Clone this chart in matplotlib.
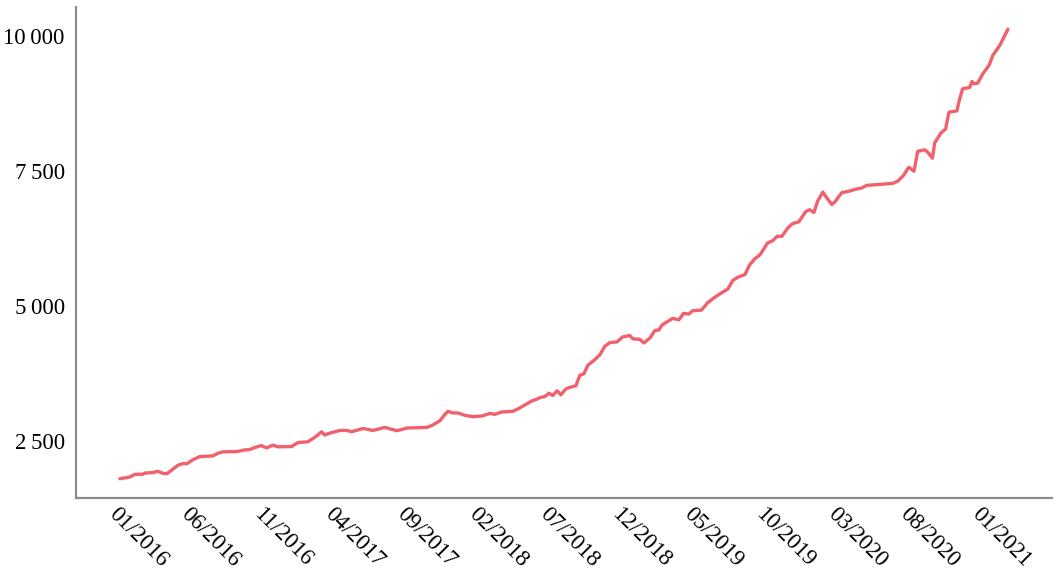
import matplotlib
matplotlib.use("Agg")
import matplotlib.pyplot as plt
import matplotlib.dates as mdates
from matplotlib.ticker import FuncFormatter, FixedLocator
import pandas as pd

plt.rcParams['font.family'] = ['Liberation Serif', 'DejaVu Serif']

# valeurs
dates = [
    "2016-01-01", "2016-01-22", "2016-02-02", "2016-02-19", "2016-02-23", "2016-03-11", "2016-03-21",
    "2016-04-01", "2016-04-10", "2016-04-20", "2016-05-03", "2016-05-13", "2016-05-22", "2016-06-04",
    "2016-06-18", "2016-07-16", "2016-07-27", "2016-08-06", "2016-09-05", "2016-09-18", "2016-10-02",
    "2016-10-13", "2016-10-26", "2016-11-07", "2016-11-20", "2016-12-01", "2016-12-30", "2017-01-12",
    "2017-02-02", "2017-02-17", "2017-02-23", "2017-03-03", "2017-03-10", "2017-03-21", "2017-04-11",
    "2017-04-26", "2017-05-06", "2017-05-30", "2017-06-20", "2017-07-15", "2017-08-10", "2017-08-31",
    "2017-10-12", "2017-10-25", "2017-11-09", "2017-11-19", "2017-11-26", "2017-12-06", "2017-12-17",
    "2018-01-01", "2018-01-18", "2018-02-06", "2018-02-23", "2018-03-05", "2018-03-20", "2018-04-12",
    "2018-04-23", "2018-05-12", "2018-05-23", "2018-06-02", "2018-06-09", "2018-06-19", "2018-06-28",
    "2018-07-06", "2018-07-15", "2018-07-23", "2018-08-03", "2018-08-15", "2018-08-24", "2018-09-01",
    "2018-09-10", "2018-09-18", "2018-10-03", "2018-10-14", "2018-10-24", "2018-11-04", "2018-11-19",
    "2018-12-01", "2018-12-16", "2018-12-23", "2019-01-06", "2019-01-15", "2019-01-28", "2019-02-07",
    "2019-02-16", "2019-02-22", "2019-03-05", "2019-03-17", "2019-03-30", "2019-04-09", "2019-04-20",
    "2019-04-28", "2019-05-17", "2019-05-30", "2019-06-14", "2019-06-29", "2019-07-12", "2019-07-22",
    "2019-08-02", "2019-08-17", "2019-08-27", "2019-09-07", "2019-09-18", "2019-10-04", "2019-10-15",
    "2019-10-24", "2019-11-03", "2019-11-16", "2019-11-26", "2019-12-09", "2019-12-24", "2020-01-01",
    "2020-01-10", "2020-01-18", "2020-01-29", "2020-02-06", "2020-02-17", "2020-02-23", "2020-03-09",
    "2020-03-26", "2020-04-06", "2020-04-20", "2020-05-01", "2020-05-22", "2020-06-25", "2020-07-06",
    "2020-07-18", "2020-07-29", "2020-08-09", "2020-08-17", "2020-09-01", "2020-09-07", "2020-09-17",
    "2020-09-22", "2020-10-05", "2020-10-15", "2020-10-22", "2020-11-08", "2020-11-12", "2020-11-20",
    "2020-12-05", "2020-12-10", "2020-12-14", "2020-12-22", "2021-01-02", "2021-01-15", "2021-01-23",
    "2021-02-07", "2021-02-24",
]
valeurs = [
    1797, 1828, 1879, 1879, 1903, 1909, 1935,
    1897, 1890, 1959, 2047, 2076, 2076, 2151,
    2207, 2220, 2270, 2295, 2300, 2326, 2338,
    2375, 2412, 2369, 2420, 2388, 2394, 2468,
    2481, 2565, 2606, 2668, 2606, 2644, 2692,
    2692, 2668, 2729, 2692, 2748, 2687, 2737,
    2748, 2793, 2873, 2985, 3047, 3017, 3017,
    2972, 2948, 2961, 3009, 2991, 3035, 3047,
    3091, 3185, 3241, 3271, 3302, 3321, 3382,
    3340, 3427, 3353, 3465, 3502, 3521, 3713,
    3744, 3899, 4006, 4099, 4254, 4323, 4334,
    4427, 4453, 4390, 4384, 4315, 4409, 4543,
    4558, 4646, 4707, 4771, 4744, 4864, 4851,
    4912, 4925, 5062, 5162, 5248, 5317, 5472,
    5536, 5584, 5765, 5877, 5952, 6170, 6213,
    6293, 6293, 6450, 6530, 6562, 6754, 6786,
    6735, 6946, 7114, 7009, 6884, 6927, 7103,
    7133, 7164, 7189, 7239, 7252, 7276, 7319,
    7425, 7575, 7500, 7870, 7898, 7855, 7743,
    8028, 8209, 8284, 8595, 8620, 8782, 9030,
    9054, 9166, 9123, 9136, 9310, 9465, 9651,
    9838, 10136,
]
ticks_x = pd.date_range("2016-01-01", periods=13, freq="5MS")
ticks_y = [2500, 5000, 7500, 10000]

x = pd.to_datetime(dates)

fig = plt.figure(figsize=(10.55, 5.78), dpi=100)
ax = fig.add_axes([0.072, 0.1384, 0.925, 0.8495])

ax.plot(x, valeurs, color="#f0606d", linewidth=2.4, solid_joinstyle="round", solid_capstyle="round")

ax.set_xlim(pd.Timestamp("2015-09-30"), pd.Timestamp("2021-05-28"))
ax.set_ylim(1439, 10547)

ax.xaxis.set_major_locator(FixedLocator(mdates.date2num(ticks_x)))
ax.xaxis.set_major_formatter(mdates.DateFormatter("%m/%Y"))
ax.yaxis.set_major_locator(FixedLocator(ticks_y))
ax.yaxis.set_major_formatter(FuncFormatter(lambda v, p: f"{int(v):,}".replace(",", "\u2009")))

for s in ["top", "right"]:
    ax.spines[s].set_visible(False)
for s in ["left", "bottom"]:
    ax.spines[s].set_color("#8c8c8c")
    ax.spines[s].set_linewidth(1.6)

ax.tick_params(axis="both", length=0, labelsize=16.5, colors="black")
ax.tick_params(axis="y", pad=8)
ax.tick_params(axis="x", pad=4)
for lab in ax.get_xticklabels():
    lab.set_rotation(-45)
    lab.set_ha("left")
    lab.set_va("top")
    lab.set_rotation_mode("anchor")

fig.savefig("out.png", dpi=100)
